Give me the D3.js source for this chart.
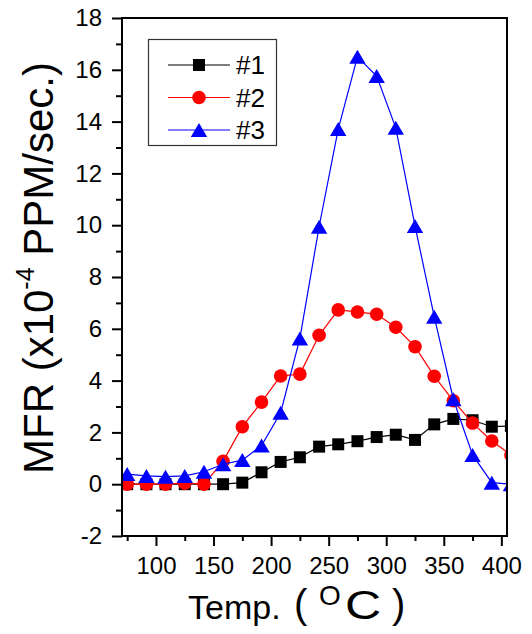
<html>
<head>
    <script src="https://d3js.org/d3.v7.min.js"></script>
</head>
<style>
    body { margin: 0; background: white; }
    text { font-family: "Liberation Sans", Arial, sans-serif; fill: black; }
    .axis .domain { stroke: none; }
    .axis line { stroke: black; stroke-width: 2; }
</style>
<body>
    <svg height="634" width="532" id="mfr"></svg>
</body>
<script>

    // temperature steps (deg C)
    let temps = [75, 91.7, 108.3, 125, 141.7, 158.3, 175, 191.7, 208.3, 225, 241.7,
                 258.3, 275, 291.7, 308.3, 325, 341.7, 358.3, 375, 391.7, 408.3];

    // MFR, x10^-4 PPM/sec
    let mfr1 = [0, 0, 0, 0, 0, 0, 0.06, 0.46, 0.86, 1.04, 1.45,
                1.54, 1.66, 1.82, 1.91, 1.71, 2.31, 2.52, 2.47, 2.22, 2.25];
    let mfr2 = [0, 0, 0, 0.04, 0, 0.88, 2.22, 3.17, 4.18, 4.25, 5.75,
                6.73, 6.65, 6.56, 6.06, 5.31, 4.17, 3.22, 2.36, 1.67, 1.13];
    let mfr3 = [0.39, 0.32, 0.29, 0.32, 0.48, 0.77, 0.93, 1.49, 2.76, 5.63, 9.94,
                13.71, 16.5, 15.76, 13.76, 9.97, 6.47, 3.28, 1.13, 0.06, 0];

    let series_names = ['#1', '#2', '#3'];
    let series_colors = ['black', 'red', 'blue'];
    let series_shapes = ['square', 'circle', 'triangle'];

    let x_ticks = [100, 150, 200, 250, 300, 350, 400];
    let x_minor = [75, 125, 175, 225, 275, 325, 375];
    let y_ticks = [-2, 0, 2, 4, 6, 8, 10, 12, 14, 16, 18];
    let y_minor = [-1, 1, 3, 5, 7, 9, 11, 13, 15, 17];

    let plt = d3.select('svg#mfr');

    let margins = { "top": 18, "right": 25, "bottom": 98, "left": 122 };
    let inner_plot_width = 532 - margins.left - margins.right;
    let inner_plot_height = 634 - margins.top - margins.bottom;

    let x_scale = d3.scaleLinear()
                    .domain([70.5, 404.9])
                    .range([0, inner_plot_width]);

    let y_scale = d3.scaleLinear()
                    .domain([-2, 18])
                    .range([inner_plot_height, 0]);

    // axes
    plt.append('g')
        .attr('class', 'axis')
        .attr('transform', `translate(${margins.left},${margins.top})`)
        .call(d3.axisLeft(y_scale).tickValues(y_ticks).tickSize(10).tickPadding(10)
                .tickFormat(d => String(d)))
        .selectAll('text')
        .attr('font-size', 24);

    plt.append('g')
        .attr('class', 'axis')
        .attr('transform', `translate(${margins.left},${margins.top})`)
        .call(d3.axisLeft(y_scale).tickValues(y_minor).tickSize(6).tickFormat(''));

    plt.append('g')
        .attr('class', 'axis')
        .attr('transform', `translate(${margins.left},${margins.top + inner_plot_height})`)
        .call(d3.axisBottom(x_scale).tickValues(x_ticks).tickSize(10).tickPadding(11))
        .selectAll('text')
        .attr('font-size', 24);

    plt.append('g')
        .attr('class', 'axis')
        .attr('transform', `translate(${margins.left},${margins.top + inner_plot_height})`)
        .call(d3.axisBottom(x_scale).tickValues(x_minor).tickSize(5).tickFormat(''));

    plt.selectAll('.axis text').attr('fill', 'black').style('font-family', '"Liberation Sans", Arial, sans-serif');

    // clip for the data
    plt.append('clipPath')
        .attr('id', 'plotclip')
        .append('rect')
        .attr('width', inner_plot_width)
        .attr('height', inner_plot_height);

    let chart_area = plt.append('g')
                        .attr('transform', `translate(${margins.left},${margins.top})`)
                        .attr('clip-path', 'url(#plotclip)');

    function markerPath(shape) {
        if (shape == 'square') return 'M -6 -6 H 6 V 6 H -6 Z';
        if (shape == 'triangle') return 'M 0 -7 L 8.2 7 L -8.2 7 Z';
        return d3.symbol(d3.symbolCircle, 145)();
    }

    let all_series = [mfr1, mfr2, mfr3];

    all_series.forEach((vals, i) => {
        let pts = temps.map((t, j) => [t, vals[j]]);

        let line = d3.line()
                     .x(d => x_scale(d[0]))
                     .y(d => y_scale(d[1]));

        chart_area.append('path')
            .datum(pts)
            .attr('d', line)
            .attr('fill', 'none')
            .attr('stroke', series_colors[i])
            .attr('stroke-width', 1.2);

        chart_area.selectAll('path.mk' + i)
            .data(pts)
            .join('path')
            .attr('class', 'mk' + i)
            .attr('d', markerPath(series_shapes[i]))
            .attr('transform', d => `translate(${x_scale(d[0])},${y_scale(d[1])})`)
            .attr('fill', series_colors[i]);
    });

    // frame
    plt.append('rect')
        .attr('x', margins.left)
        .attr('y', margins.top)
        .attr('width', inner_plot_width)
        .attr('height', inner_plot_height)
        .attr('fill', 'none')
        .attr('stroke', 'black')
        .attr('stroke-width', 2);

    // legend
    let legend = plt.append('g').attr('class', 'legend');

    legend.append('rect')
        .attr('x', 148.5)
        .attr('y', 39.5)
        .attr('width', 128)
        .attr('height', 106)
        .attr('fill', 'white')
        .attr('stroke', '#333')
        .attr('stroke-width', 1.2);

    series_names.forEach((name, i) => {
        let ly = 65 + i * 32.5;

        legend.append('line')
            .attr('x1', 168).attr('x2', 230)
            .attr('y1', ly).attr('y2', ly)
            .attr('stroke', series_colors[i])
            .attr('stroke-width', 1.2);

        legend.append('path')
            .attr('d', markerPath(series_shapes[i]))
            .attr('transform', `translate(199,${ly})`)
            .attr('fill', series_colors[i]);

        legend.append('text')
            .attr('x', 236)
            .attr('y', ly)
            .attr('dy', '0.36em')
            .attr('font-size', 26)
            .text(name);
    });

    // axis titles
    let ytitle = plt.append('text')
                    .attr('transform', 'translate(53,268) rotate(-90)')
                    .attr('text-anchor', 'middle')
                    .attr('font-size', 42);
    ytitle.append('tspan').text('MFR (x10');
    ytitle.append('tspan').attr('font-size', 25).attr('dy', -19).text('-4');
    ytitle.append('tspan').attr('dy', 19).text(' PPM/sec.)');

    // x title, pieces placed to follow the original spacing
    let xtitle = plt.append('g').attr('class', 'xtitle');
    xtitle.append('text').attr('x', 188).attr('y', 619).attr('font-size', 34).text('Temp.');
    xtitle.append('text').attr('x', 294).attr('y', 618).attr('font-size', 40).text('(');
    xtitle.append('text').attr('x', 319).attr('y', 605).attr('font-size', 28).text('O');
    xtitle.append('text').attr('transform', 'translate(345,619) scale(1.25,1)')
        .attr('font-size', 40).text('C');
    xtitle.append('text').attr('x', 392).attr('y', 618).attr('font-size', 40).text(')');

</script>
</html>
